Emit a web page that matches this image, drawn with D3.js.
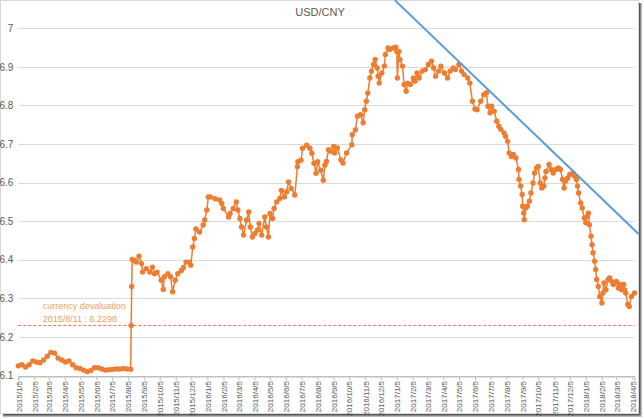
<!DOCTYPE html>
<html><head><meta charset="utf-8">
<script src="https://cdn.jsdelivr.net/npm/d3@7"></script>
<style>body{margin:0;background:#fff}svg{display:block}</style>
</head><body>
<svg id="c" width="644" height="419"></svg>
<script>
// ---- data (USD/CNY central parity) ----
const dates = [
"2015-01-05","2015-01-12","2015-01-19","2015-01-26","2015-02-02","2015-02-09","2015-02-16","2015-02-23",
"2015-03-02","2015-03-09","2015-03-16","2015-03-23","2015-03-30","2015-04-06","2015-04-13","2015-04-20",
"2015-04-27","2015-05-04","2015-05-11","2015-05-18","2015-05-25","2015-06-01","2015-06-08","2015-06-15",
"2015-06-22","2015-06-29","2015-07-06","2015-07-13","2015-07-20","2015-07-27","2015-08-03","2015-08-10",
"2015-08-11","2015-08-12","2015-08-13","2015-08-17","2015-08-21","2015-08-26","2015-08-31","2015-09-02",
"2015-09-09","2015-09-16","2015-09-21","2015-09-25","2015-09-30","2015-10-08","2015-10-12","2015-10-14",
"2015-10-21","2015-10-26","2015-10-30","2015-11-04","2015-11-09","2015-11-16","2015-11-20","2015-11-25",
"2015-12-01","2015-12-04","2015-12-08","2015-12-11","2015-12-14","2015-12-21","2015-12-28","2015-12-31",
"2016-01-04","2016-01-07","2016-01-11","2016-01-20","2016-01-29","2016-02-02","2016-02-05","2016-02-15",
"2016-02-18","2016-02-24","2016-03-01","2016-03-04","2016-03-08","2016-03-11","2016-03-15","2016-03-21",
"2016-03-25","2016-03-28","2016-04-01","2016-04-06","2016-04-11","2016-04-14","2016-04-19","2016-04-25",
"2016-04-28","2016-05-02","2016-05-05","2016-05-10","2016-05-13","2016-05-18","2016-05-24","2016-05-27",
"2016-06-02","2016-06-06","2016-06-10","2016-06-15","2016-06-22","2016-06-27","2016-06-28","2016-07-04",
"2016-07-07","2016-07-15","2016-07-21","2016-07-25","2016-07-29","2016-08-02","2016-08-05","2016-08-11",
"2016-08-16","2016-08-19","2016-08-22","2016-08-26","2016-08-30","2016-09-05","2016-09-07","2016-09-12",
"2016-09-19","2016-09-23","2016-09-30","2016-10-10","2016-10-11","2016-10-17","2016-10-21","2016-10-27",
"2016-11-01","2016-11-04","2016-11-07","2016-11-10","2016-11-14","2016-11-17","2016-11-21","2016-11-24",
"2016-11-28","2016-11-30","2016-12-02","2016-12-07","2016-12-12","2016-12-14","2016-12-19","2016-12-22",
"2016-12-29","2017-01-03","2017-01-05","2017-01-06","2017-01-09","2017-01-11","2017-01-16","2017-01-19",
"2017-01-23","2017-01-26","2017-01-31","2017-02-06","2017-02-09","2017-02-13","2017-02-17","2017-02-23",
"2017-03-01","2017-03-07","2017-03-13","2017-03-17","2017-03-21","2017-03-27","2017-03-31","2017-04-07",
"2017-04-13","2017-04-18","2017-04-24","2017-04-28","2017-05-05","2017-05-10","2017-05-15","2017-05-22",
"2017-05-26","2017-05-31","2017-06-05","2017-06-09","2017-06-16","2017-06-22","2017-06-27","2017-06-30",
"2017-07-04","2017-07-07","2017-07-12","2017-07-17","2017-07-21","2017-07-25","2017-07-31","2017-08-03",
"2017-08-07","2017-08-10","2017-08-14","2017-08-18","2017-08-23","2017-08-28","2017-08-29","2017-09-01",
"2017-09-04","2017-09-05","2017-09-07","2017-09-08","2017-09-11","2017-09-14","2017-09-18","2017-09-21",
"2017-09-25","2017-09-28","2017-10-02","2017-10-05","2017-10-09","2017-10-12","2017-10-16","2017-10-18",
"2017-10-20","2017-10-26","2017-10-30","2017-11-03","2017-11-08","2017-11-13","2017-11-17","2017-11-21",
"2017-11-24","2017-11-27","2017-12-01","2017-12-05","2017-12-11","2017-12-14","2017-12-18","2017-12-20",
"2017-12-22","2017-12-26","2017-12-29","2018-01-02","2018-01-05","2018-01-08","2018-01-10","2018-01-12",
"2018-01-15","2018-01-17","2018-01-19","2018-01-22","2018-01-24","2018-01-26","2018-01-29","2018-02-01",
"2018-02-05","2018-02-07","2018-02-09","2018-02-13","2018-02-17","2018-02-20","2018-02-24","2018-02-27",
"2018-03-02","2018-03-05","2018-03-09","2018-03-12","2018-03-15","2018-03-19","2018-03-21","2018-03-23",
"2018-03-27","2018-03-30","2018-04-03","2018-04-09"
];
const values = [
6.125,6.128,6.122,6.128,6.138,6.135,6.133,6.140,
6.150,6.160,6.158,6.145,6.140,6.135,6.138,6.128,
6.120,6.118,6.114,6.110,6.113,6.120,6.120,6.117,
6.114,6.115,6.116,6.117,6.117,6.118,6.117,6.1162,
6.2298,6.3306,6.401,6.398,6.394,6.409,6.390,6.368,
6.377,6.368,6.381,6.364,6.368,6.347,6.323,6.356,
6.364,6.356,6.317,6.347,6.364,6.372,6.380,6.394,
6.394,6.386,6.433,6.455,6.480,6.472,6.490,6.503,
6.529,6.563,6.563,6.558,6.555,6.546,6.533,6.511,
6.520,6.533,6.550,6.529,6.507,6.485,6.464,6.503,
6.524,6.485,6.459,6.468,6.477,6.494,6.464,6.511,
6.485,6.459,6.520,6.507,6.533,6.550,6.559,6.580,
6.563,6.576,6.602,6.585,6.568,6.641,6.654,6.658,
6.689,6.697,6.689,6.676,6.650,6.624,6.654,6.632,
6.606,6.645,6.655,6.685,6.681,6.694,6.677,6.690,
6.659,6.651,6.677,6.698,6.724,6.737,6.772,6.776,
6.755,6.789,6.811,6.832,6.871,6.889,6.906,6.919,
6.897,6.876,6.858,6.884,6.902,6.932,6.949,6.945,
6.949,6.951,6.940,6.871,6.940,6.919,6.902,6.854,
6.837,6.858,6.854,6.871,6.863,6.884,6.871,6.889,
6.893,6.906,6.915,6.897,6.876,6.889,6.902,6.884,
6.871,6.889,6.897,6.893,6.906,6.889,6.880,6.871,
6.858,6.811,6.791,6.789,6.811,6.828,6.833,6.798,
6.781,6.798,6.785,6.759,6.746,6.738,6.729,6.720,
6.707,6.677,6.668,6.673,6.664,6.634,6.608,6.591,
6.569,6.539,6.521,6.504,6.534,6.539,6.552,6.573,
6.599,6.625,6.638,6.642,6.599,6.586,6.591,6.612,
6.629,6.647,6.634,6.625,6.634,6.638,6.634,6.608,
6.586,6.604,6.612,6.621,6.625,6.617,6.608,6.591,
6.573,6.547,6.534,6.508,6.496,6.513,6.521,6.491,
6.461,6.439,6.418,6.396,6.375,6.349,6.331,6.305,
6.288,6.314,6.340,6.322,6.349,6.353,6.344,6.336,
6.340,6.344,6.327,6.336,6.322,6.336,6.322,6.314,
6.284,6.279,6.305,6.314
];
const tickLabels = [
"2015/1/5","2015/2/5","2015/3/5","2015/4/5","2015/5/5","2015/6/5","2015/7/5","2015/8/5","2015/9/5","2015/10/5","2015/11/5","2015/12/5",
"2016/1/5","2016/2/5","2016/3/5","2016/4/5","2016/5/5","2016/6/5","2016/7/5","2016/8/5","2016/9/5","2016/10/5","2016/11/5","2016/12/5",
"2017/1/5","2017/2/5","2017/3/5","2017/4/5","2017/5/5","2017/6/5","2017/7/5","2017/8/5","2017/9/5","2017/10/5","2017/11/5","2017/12/5",
"2018/1/5","2018/2/5","2018/3/5","2018/4/5"
];
const yTicks = [6.1,6.2,6.3,6.4,6.5,6.6,6.7,6.8,6.9,7];
const devaluation = {date:"2015/8/11", value:6.2298};
const trendDates = ["2017-01-01","2018-04-17"];
const trendValues = [7.073, 6.467];
const title = "USD/CNY";

// ---- drawing ----
const parse = d3.timeParse("%Y-%m-%d");
const parseLabel = d3.timeParse("%Y/%m/%d");
const series = dates.map((d,i)=>({date:parse(d), value:values[i]}));
const svg = d3.select("#c");
const W = 644, H = 419;
const L = 18.3, R = 634.5, T = 28.3, B = 375.5;

const x = d3.scaleTime().domain([parse("2015-01-05"), parse("2018-04-09")]).range([L, R]);
const y = d3.scaleLinear().domain([6.1, 7]).range([B, T]);

svg.append("rect").attr("x",0).attr("y",0).attr("width",W).attr("height",H).attr("fill","#fff");
// frame + shadow
svg.append("rect").attr("x",0.5).attr("y",0.5).attr("width",638).attr("height",413)
  .attr("fill","none").attr("stroke","#d9d9d9");
[["#555",639.5],["#888",640.5],["#bbb",641.5]].forEach(([c,p])=>{
  svg.append("line").attr("x1",p).attr("x2",p).attr("y1",3).attr("y2",p-639.5+414.5).attr("stroke",c);
  svg.append("line").attr("y1",p-639.5+414.5).attr("y2",p-639.5+414.5).attr("x1",3).attr("x2",p).attr("stroke",c);
});

// gridlines
svg.append("g").selectAll("line").data(yTicks).join("line")
  .attr("x1",L).attr("x2",R)
  .attr("y1",d=>Math.round(y(d))+0.5).attr("y2",d=>Math.round(y(d))+0.5)
  .attr("stroke",(d,i)=>i===0?"#bfbfbf":"#d9d9d9").attr("stroke-width",1);

// y axis labels
const ya = svg.append("g").attr("transform",`translate(${L},0)`)
  .call(d3.axisLeft(y).tickValues(yTicks).tickSize(0).tickPadding(5).tickFormat(d3.format("")));
ya.select(".domain").remove();
ya.selectAll("text").attr("fill","#595959").style("font","10px 'Liberation Sans', Arial, sans-serif");

// x axis
const tickDates = tickLabels.map(parseLabel);
const xa = svg.append("g").attr("transform",`translate(0,${Math.round(B)+0.5})`)
  .call(d3.axisBottom(x).tickValues(tickDates).tickSize(4).tickFormat((d,i)=>tickLabels[i]));
xa.select(".domain").attr("stroke","#bfbfbf");
xa.selectAll(".tick line").attr("stroke","#bfbfbf");
xa.selectAll("text")
  .attr("transform","rotate(-90)")
  .attr("x",-4.5).attr("y",0).attr("dy","0.35em")
  .style("text-anchor","end")
  .attr("fill","#595959")
  .style("font","8px 'Liberation Sans', Arial, sans-serif");

// devaluation reference line + note
const yd = Math.floor(y(devaluation.value)) + 0.5;
svg.append("line").attr("x1",L).attr("x2",R).attr("y1",yd).attr("y2",yd)
  .attr("stroke","#f07070").attr("stroke-width",1).attr("stroke-dasharray","3,2");
const note = svg.append("g").attr("fill","#f0a060").style("font","9px 'Liberation Sans', Arial, sans-serif");
note.append("text").attr("x",42.7).attr("y",308.5).text("currency devaluation");
note.append("text").attr("x",42.7).attr("y",321.5).text(`${devaluation.date} : ${devaluation.value}`);

// series line + markers
const line = d3.line().x(d=>x(d.date)).y(d=>y(d.value));
svg.append("path").datum(series).attr("d",line)
  .attr("fill","none").attr("stroke","#ED7D31").attr("stroke-width",1.5);
svg.append("g").selectAll("circle").data(series).join("circle")
  .attr("cx",d=>x(d.date)).attr("cy",d=>y(d.value)).attr("r",2.7)
  .attr("fill","#ED7D31");

// trend line
const trend = trendDates.map((d,i)=>({date:parse(d), value:trendValues[i]}));
svg.append("path").datum(trend).attr("d",line)
  .attr("fill","none").attr("stroke","#5B9BD5").attr("stroke-width",2);

// title
svg.append("text").attr("x",320).attr("y",16).attr("text-anchor","middle")
  .attr("fill","#595959").style("font","11px 'Liberation Sans', Arial, sans-serif").text(title);
</script>
</body></html>
